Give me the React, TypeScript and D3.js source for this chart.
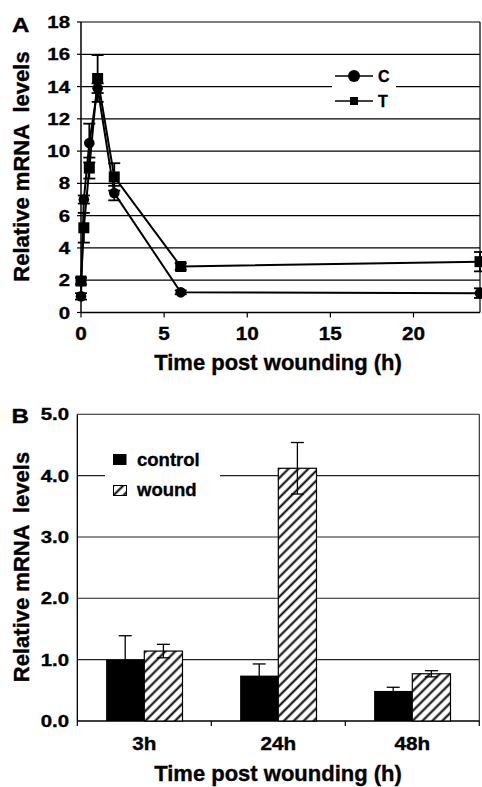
import React from "react";
import * as d3 from "d3";

// Panel A data
const timesA = [0, 0.17, 0.5, 1, 2, 6, 24];
const cValues = [1.0, 7.0, 10.5, 13.9, 7.4, 1.25, 1.2];
const cErr = [0.2, 0.25, 1.2, 0.3, 0.45, 0.12, 0.3];
const tValues = [1.95, 5.25, 8.95, 14.5, 8.4, 2.85, 3.15];
const tErr = [0.2, 0.92, 0.65, 1.45, 0.85, 0.2, 0.6];
const xTicksA = [0, 5, 10, 15, 20];
const yTicksA = [0, 2, 4, 6, 8, 10, 12, 14, 16, 18];

// Panel B data
const categories = ["3h", "24h", "48h"];
const controlVals = [1.0, 0.74, 0.49];
const controlErr = [0.39, 0.19, 0.06];
const woundVals = [1.14, 4.12, 0.77];
const woundErr = [0.11, 0.42, 0.05];
const yTicksB = [0, 1, 2, 3, 4, 5];

const FONT = "'Liberation Sans', Arial, Helvetica, sans-serif";

function Txt({ x, y, size, anchor = "start", sx = 1, rotate = 0, children }: any) {
  return (
    <text
      transform={`translate(${x},${y}) rotate(${rotate}) scale(${sx},1)`}
      fontSize={size}
      fontWeight="bold"
      fontFamily={FONT}
      textAnchor={anchor}
      fill="#000"
      stroke="#000"
      strokeWidth={0.35}
      style={{ whiteSpace: "pre" }}
    >
      {children}
    </text>
  );
}

export default function App() {
  // Panel A scales
  const xA = d3.scaleLinear().domain([0, 24]).range([81, 480]);
  const yA = d3.scaleLinear().domain([0, 18]).range([312.5, 22]);
  const line = d3
    .line<number>()
    .x((_, i) => xA(timesA[i]))
    .y((d) => yA(d));

  // Panel B scales
  const xB = d3.scaleBand<string>().domain(categories).range([77.3, 479.3]);
  const bw = xB.bandwidth();
  const xSub = d3
    .scaleBand<string>()
    .domain(["control", "wound"])
    .range([bw * 0.215, bw * 0.785]);
  const yB = d3.scaleLinear().domain([0, 5]).range([721, 414.3]);

  const capA = 6;
  const capB = 6.5;

  return (
    <svg
      width={482}
      height={787}
      style={{ position: "absolute", left: 0, top: 0, background: "#fff" }}
    >
      <defs>
        <pattern
          id="hatch"
          patternUnits="userSpaceOnUse"
          width={7}
          height={7}
          patternTransform="rotate(45)"
        >
          <rect width={7} height={7} fill="#fff" />
          <line x1={3.5} y1={0} x2={3.5} y2={7} stroke="#000" strokeWidth={2} />
        </pattern>
      </defs>
      <rect width={482} height={787} fill="#fff" />

      {/* ===== Panel A ===== */}
      {yTicksA.map((t) => (
        <g key={"ga" + t}>
          {t > 0 && (
            <line x1={xA(0)} x2={xA(24)} y1={yA(t)} y2={yA(t)} stroke="#000" strokeWidth={1.2} />
          )}
          <line x1={xA(0) - 4} x2={xA(0)} y1={yA(t)} y2={yA(t)} stroke="#000" strokeWidth={1.2} />
          <Txt x={70} y={yA(t) + 6} size={17} anchor="end" sx={1.2}>
            {String(t)}
          </Txt>
        </g>
      ))}
      <line x1={xA(24)} x2={xA(24)} y1={yA(18)} y2={yA(0)} stroke="#000" strokeWidth={1.2} />
      <line x1={xA(0)} x2={xA(0)} y1={yA(18)} y2={yA(0)} stroke="#000" strokeWidth={1.5} />
      <line x1={xA(0)} x2={xA(24)} y1={yA(0)} y2={yA(0)} stroke="#000" strokeWidth={1.5} />
      {xTicksA.map((t) => (
        <g key={"xa" + t}>
          <line x1={xA(t)} x2={xA(t)} y1={yA(0)} y2={yA(0) + 5} stroke="#000" strokeWidth={1.2} />
          <Txt x={xA(t)} y={339.5} size={18} anchor="middle" sx={1.15}>
            {String(t)}
          </Txt>
        </g>
      ))}
      <Txt x={278} y={370} size={22} anchor="middle">
        Time post wounding (h)
      </Txt>
      <Txt x={28.5} y={166.5} size={22} anchor="middle" rotate={-90}>
        {"Relative mRNA  levels"}
      </Txt>
      <Txt x={12} y={31.7} size={21} sx={1.15}>
        A
      </Txt>

      {/* legend A */}
      <rect x={332} y={62} width={64} height={51} fill="#fff" />
      <line x1={335} x2={373} y1={76} y2={76} stroke="#000" strokeWidth={1.5} />
      <circle cx={354} cy={76} r={6} fill="#000" />
      <Txt x={378} y={81.8} size={16}>
        C
      </Txt>
      <line x1={335} x2={373} y1={101} y2={101} stroke="#000" strokeWidth={1.5} />
      <rect x={350} y={97} width={8} height={8} fill="#000" />
      <Txt x={378} y={106.8} size={16}>
        T
      </Txt>

      {/* series lines */}
      <path d={line(cValues) || ""} fill="none" stroke="#000" strokeWidth={2} />
      <path d={line(tValues) || ""} fill="none" stroke="#000" strokeWidth={2} />

      {/* error bars */}
      {[
        { v: cValues, e: cErr },
        { v: tValues, e: tErr },
      ].map((s, si) =>
        s.v.map((v, i) => {
          const x = xA(timesA[i]);
          const y1 = yA(v + s.e[i]);
          const y2 = yA(v - s.e[i]);
          return (
            <g key={"ea" + si + "-" + i}>
              <line x1={x} x2={x} y1={y1} y2={y2} stroke="#000" strokeWidth={1.8} />
              <line x1={x - capA} x2={x + capA} y1={y1} y2={y1} stroke="#000" strokeWidth={1.8} />
              <line x1={x - capA} x2={x + capA} y1={y2} y2={y2} stroke="#000" strokeWidth={1.8} />
            </g>
          );
        })
      )}

      {/* markers */}
      {cValues.map((v, i) => (
        <circle key={"c" + i} cx={xA(timesA[i])} cy={yA(v)} r={5.3} fill="#000" />
      ))}
      {tValues.map((v, i) => (
        <rect
          key={"t" + i}
          x={xA(timesA[i]) - 5.5}
          y={yA(v) - 5.5}
          width={11}
          height={11}
          fill="#000"
        />
      ))}

      {/* ===== Panel B ===== */}
      {yTicksB.map((t) => (
        <g key={"gb" + t}>
          {t > 0 && (
            <line x1={77.3} x2={479.3} y1={yB(t)} y2={yB(t)} stroke="#222" strokeWidth={1.1} />
          )}
          <Txt x={69} y={yB(t) + 6} size={17} anchor="end" sx={1.2}>
            {t.toFixed(1)}
          </Txt>
        </g>
      ))}
      <line x1={479.3} x2={479.3} y1={yB(5)} y2={yB(0)} stroke="#222" strokeWidth={1.1} />
      <line x1={77.3} x2={77.3} y1={yB(5)} y2={yB(0)} stroke="#000" strokeWidth={1.3} />
      <line x1={77.3} x2={479.3} y1={yB(0)} y2={yB(0)} stroke="#000" strokeWidth={1.3} />
      {[...categories.map((c) => xB(c) as number), 479.3].map((x, i) => (
        <line key={"tb" + i} x1={x} x2={x} y1={yB(0)} y2={yB(0) + 5} stroke="#000" strokeWidth={1.2} />
      ))}

      {/* legend B */}
      <rect x={105} y={444} width={115} height={60} fill="#fff" />
      <rect x={113} y={454} width={13.5} height={11} fill="#000" />
      <Txt x={137} y={466} size={18.5}>
        control
      </Txt>
      <rect x={113.5} y={485.5} width={13} height={10} fill="url(#hatch)" stroke="#000" strokeWidth={1} />
      <Txt x={137} y={496} size={18.5}>
        wound
      </Txt>

      {categories.map((c, i) => {
        const x0 = xB(c) as number;
        const xc = x0 + (xSub("control") as number);
        const xw = x0 + (xSub("wound") as number);
        const sw = xSub.bandwidth();
        return (
          <g key={"bar" + c}>
            <rect x={xc} y={yB(controlVals[i])} width={sw} height={yB(0) - yB(controlVals[i])} fill="#000" />
            <rect
              x={xw}
              y={yB(woundVals[i])}
              width={sw}
              height={yB(0) - yB(woundVals[i])}
              fill="url(#hatch)"
              stroke="#000"
              strokeWidth={1.2}
            />
            {[
              { x: xc + sw / 2, v: controlVals[i], e: controlErr[i] },
              { x: xw + sw / 2, v: woundVals[i], e: woundErr[i] },
            ].map((b, j) => (
              <g key={"eb" + j}>
                <line x1={b.x} x2={b.x} y1={yB(b.v + b.e)} y2={yB(b.v - b.e)} stroke="#000" strokeWidth={1.3} />
                <line x1={b.x - capB} x2={b.x + capB} y1={yB(b.v + b.e)} y2={yB(b.v + b.e)} stroke="#000" strokeWidth={1.3} />
                <line x1={b.x - capB} x2={b.x + capB} y1={yB(b.v - b.e)} y2={yB(b.v - b.e)} stroke="#000" strokeWidth={1.3} />
              </g>
            ))}
            <Txt x={x0 + bw / 2} y={750} size={18} anchor="middle" sx={1.15}>
              {c}
            </Txt>
          </g>
        );
      })}
      <Txt x={278} y={781} size={22} anchor="middle">
        Time post wounding (h)
      </Txt>
      <Txt x={28.5} y={567} size={22} anchor="middle" rotate={-90}>
        {"Relative mRNA  levels"}
      </Txt>
      <Txt x={11.5} y={423} size={21} sx={1.15}>
        B
      </Txt>
    </svg>
  );
}
